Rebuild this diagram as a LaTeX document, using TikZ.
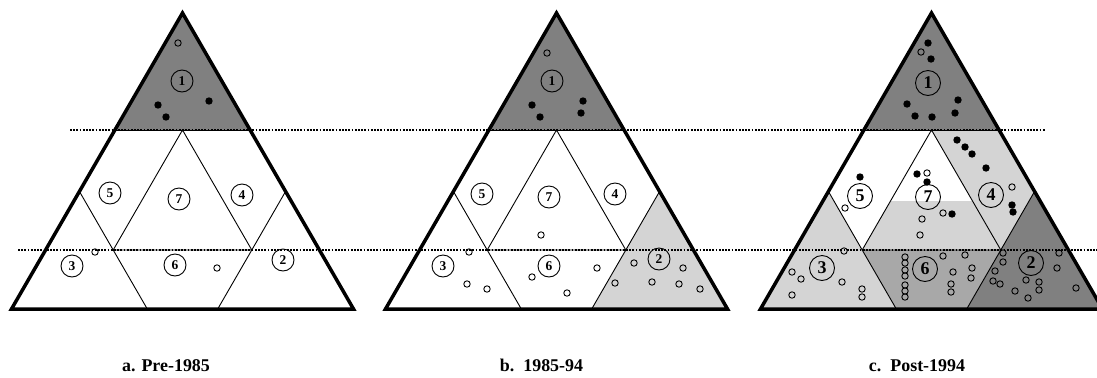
\documentclass[tikz,border=0pt]{standalone}
\usepackage{fontspec}
\setmainfont{Liberation Serif}
\definecolor{dark}{HTML}{808080}
\definecolor{mid}{HTML}{A8A8A8}
\definecolor{light}{HTML}{D4D4D4}
\tikzset{
  outer/.style={line width=3.5bp, line join=miter},
  inner/.style={line width=0.9bp},
  dotline/.style={line width=2.2bp, dash pattern=on 1.7bp off 1.5bp},
  num/.style={circle, draw, line width=0.9bp, inner sep=0pt, minimum size=22bp, font=\fontsize{13.5}{13.5}\selectfont\bfseries},
  numc/.style={num, minimum size=25bp, font=\fontsize{18}{18}\selectfont\bfseries},
  lab/.style={anchor=base, font=\fontsize{18}{18}\selectfont\bfseries},
  odot/.style={draw, line width=0.9bp},
}
\newcommand\od[1]{\draw[odot] (#1) circle[radius=3.2bp];}
\newcommand\fd[1]{\fill (#1) circle[radius=3.7bp];}
\newcommand\deftri[2]{%
  \coordinate (#1A) at (#2,13);
  \coordinate (#1BL) at ({#2-171},309);
  \coordinate (#1BR) at ({#2+171},309);
  \coordinate (#1P1) at ({#2-67.6},130);
  \coordinate (#1P2) at ({#2+67.6},130);
  \coordinate (#1M) at (#2,130);
  \coordinate (#1SL) at ({#2-103.1},191.4);
  \coordinate (#1SR) at ({#2+103.1},191.4);
  \coordinate (#1Q1) at ({#2-69.3},250);
  \coordinate (#1Q2) at ({#2+69.3},250);
  \coordinate (#1B1) at ({#2-35.2},309);
  \coordinate (#1B2) at ({#2+35.2},309);
  \coordinate (#1G1) at ({#2-41},201);
  \coordinate (#1G2) at ({#2+41},201);
}
\newcommand\innerlines[1]{%
  \draw[inner] (#1P1) -- (#1P2);
  \draw[inner] (#1M) -- (#1Q1) -- (#1Q2) -- cycle;
  \draw[inner] (#1SL) -- (#1Q1) -- (#1B1);
  \draw[inner] (#1SR) -- (#1Q2) -- (#1B2);
}
\begin{document}
\begin{tikzpicture}[x=1bp, y=-1bp]
\clip (0,0) rectangle (1097,377);
\fill[white] (0,0) rectangle (1097,377);
\deftri{a}{182.5}
\deftri{b}{556.5}
\deftri{c}{931.5}
% fills
\fill[dark] (aA) -- (aP1) -- (aP2) -- cycle;
\fill[dark] (bA) -- (bP1) -- (bP2) -- cycle;
\fill[light] (bQ2) -- (bSR) -- (bBR) -- (bB2) -- cycle;
\fill[dark] (cA) -- (cP1) -- (cP2) -- cycle;
\fill[light] (cP2) -- (cSR) -- (cQ2) -- (cM) -- cycle;
\fill[light] (cSL) -- (cQ1) -- (cB1) -- (cBL) -- cycle;
\fill[mid] (cQ1) -- (cQ2) -- (cB2) -- (cB1) -- cycle;
\fill[dark] (cQ2) -- (cSR) -- (cBR) -- (cB2) -- cycle;
\fill[light] (cG1) -- (cG2) -- (cQ2) -- (cQ1) -- cycle;
% inner lines
\innerlines{a}
\innerlines{b}
\innerlines{c}
% dotted lines
\coordinate (d1s) at (70,130);
\coordinate (d1e) at (1045,130);
\coordinate (d2s) at (18,250);
\coordinate (d2e) at (1100,250);
\draw[dotline] (d1s) -- (d1e);
\draw[dotline] (d2s) -- (d2e);
% outer triangles
\draw[outer] (aA) -- (aBL) -- (aBR) -- cycle;
\draw[outer] (bA) -- (bBL) -- (bBR) -- cycle;
\draw[outer] (cA) -- (cBL) -- (cBR) -- cycle;
% numbers a
\node[num] (a1) at (182,81) {1};
\node[num] (a5) at (110,193) {5};
\node[num] (a7) at (179,199) {7};
\node[num] (a4) at (242,195) {4};
\node[num] (a3) at (72,266) {3};
\node[num] (a6) at (175,265) {6};
\node[num] (a2) at (283,260) {2};
% numbers b
\node[num] (b1) at (552,81) {1};
\node[num] (b5) at (482,194) {5};
\node[num] (b7) at (549,197) {7};
\node[num] (b4) at (615,194) {4};
\node[num] (b3) at (443,266) {3};
\node[num] (b6) at (549,266) {6};
\node[num] (b2) at (659,259) {2};
% numbers c
\node[numc] (c1) at (928,83) {1};
\node[numc] (c5) at (860,196) {5};
\node[numc] (c7) at (928,197) {7};
\node[numc] (c4) at (991,195) {4};
\node[numc] (c3) at (822,268) {3};
\node[numc] (c6) at (925,269) {6};
\node[numc] (c2) at (1031,263) {2};
% dots a
\od{178,43}\od{95,252}\od{217,268}
\fd{158,105}\fd{166,117}\fd{209,101}
% dots b
\od{547,53}\od{541,235}\od{469,252}\od{467,284}\od{487,289}
\od{532,277}\od{597,268}\od{567,293}
\od{634,263}\od{615,283}\od{652,282}\od{683,268}\od{679,284}\od{700,289}
\fd{532,105}\fd{540,117}\fd{583,101}\fd{581,113}
% dots c: region 1
\fd{928,43}\fd{931,59}\od{921,52}
\fd{907,104}\fd{915,116}\fd{932,117}\fd{958,100}\fd{955,113}
% region 4
\fd{957,140}\fd{965,147}\fd{972,154}\fd{986,168}\fd{1012,205}\fd{1013,212}
\od{1012,187}
% region 7
\fd{917,174}\fd{927,182}\fd{952,214}
\od{927,173}\od{943,213}\od{922,219}\od{920,235}
% region 5
\fd{860,177}\od{845,208}
% region 3
\od{844,251}\od{792,272}\od{801,279}\od{842,282}\od{862,289}\od{862,297}\od{792,295}
% region 6
\od{905,257}\od{905,263}\od{905,270}\od{905,276}\od{905,285}\od{905,291}\od{905,297}
\od{943,256}\od{965,255}\od{953,272}\od{972,268}\od{971,278}\od{951,284}\od{951,292}
% region 2
\od{1003,253}\od{1003,262}\od{995,271}\od{993,281}\od{1000,284}\od{1015,291}
\od{1026,280}\od{1039,282}\od{1039,290}\od{1028,298}\od{1059,253}\od{1057,268}\od{1076,288}
% labels
\node[lab] (la) at (166,371) {a. Pre-1985};
\node[lab] (lb) at (541.5,371) {b.\ \ 1985-94};
\node[lab] (lc) at (917,371) {c.\ \ Post-1994};
\end{tikzpicture}
\end{document}
